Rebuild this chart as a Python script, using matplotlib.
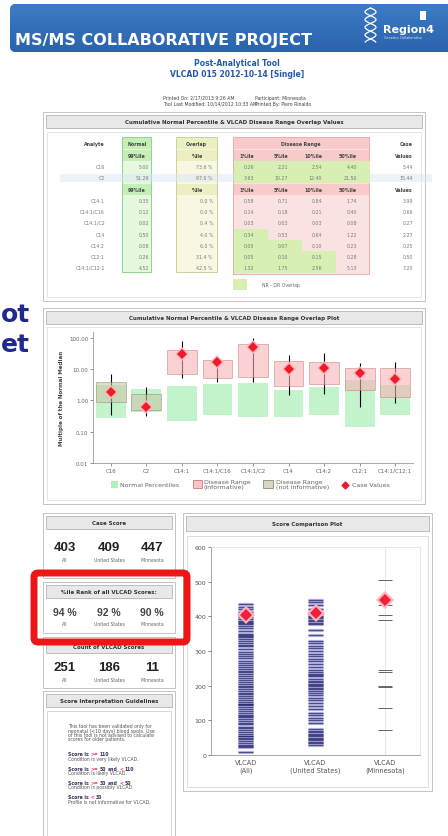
import numpy as np
import matplotlib
matplotlib.use('Agg')
import matplotlib.pyplot as plt
from matplotlib.patches import Rectangle, FancyBboxPatch

W, H = 448, 837

#%% table values
analytes = ['C16', 'C2', 'C14:1', 'C14:1/C16', 'C14:1/C2', 'C14', 'C14:2', 'C12:1', 'C14:1/C12:1']
normal_99 = [5.00, 51.29, 0.35, 0.12, 0.02, 0.50, 0.08, 0.26, 4.52]
overlap_pct = [73.6, 97.0, 0.0, 0.0, 0.4, 4.0, 6.0, 31.4, 42.5]
dr_p1 = [0.26, 3.63, 0.58, 0.14, 0.03, 0.34, 0.05, 0.05, 1.32]
dr_p5 = [2.21, 10.27, 0.71, 0.18, 0.03, 0.53, 0.07, 0.10, 1.75]
dr_p10 = [2.54, 12.40, 0.84, 0.21, 0.03, 0.64, 0.10, 0.15, 2.56]
dr_p50 = [4.40, 21.50, 1.74, 0.40, 0.08, 1.22, 0.23, 0.28, 5.13]
case_values = [5.44, 15.44, 3.99, 0.66, 0.27, 2.27, 0.25, 0.50, 7.20]

#%% overlap plot values (multiple of normal median)
norm_lo = [0.27, 0.42, 0.22, 0.35, 0.30, 0.30, 0.35, 0.14, 0.35]
norm_hi = [3.1, 2.3, 2.8, 3.3, 3.6, 2.2, 2.7, 4.5, 3.0]
box_lo = [0.88, 0.48, 6.9, 5.3, 5.5, 2.9, 3.3, 2.2, 1.3]
box_hi = [3.8, 1.6, 41, 19, 60, 18, 17, 10.5, 10.5]
whisk_lo = [0.33, 0.32, 5.2, 3.8, 3.8, 1.5, 1.6, 0.6, 0.8]
whisk_hi = [6.9, 2.6, 76, 25, 100, 28, 32, 15, 16]
case_mom = [1.9, 0.6, 30, 17, 49, 10, 11, 7.5, 4.8]
informative = [False, False, True, True, True, True, True, True, True]

#%% score values
score_groups = ['VLCAD\n(All)', 'VLCAD\n(United States)', 'VLCAD\n(Minnesota)']
scores_all = [437, 428, 420, 412, 405, 398, 392, 386, 384, 382, 378, 372, 365, 358, 350,
              345, 343, 340, 336, 330, 322, 318, 314, 305, 298, 292, 286, 280, 272, 266,
              260, 255, 248, 242, 238, 233, 228, 222, 215, 210, 205, 200, 195, 190, 186,
              180, 175, 170, 165, 160, 153, 148, 146, 145, 138, 132, 126, 120, 115, 113,
              110, 104, 98, 92, 88, 82, 78, 72, 66, 60, 56, 55, 50, 45, 40, 35, 30, 26, 22, 8]
scores_us = [447, 440, 432, 420, 412, 408, 402, 398, 395, 390, 386, 382, 378, 362, 345,
             330, 322, 315, 308, 300, 292, 285, 278, 270, 262, 254, 246, 238, 235, 232,
             228, 220, 214, 210, 206, 202, 198, 194, 190, 186, 180, 172, 165, 158, 150,
             140, 132, 122, 115, 108, 100, 92, 75, 70, 66, 62, 58, 54, 50, 46, 42, 38, 34, 30]
scores_mn = [505, 433, 404, 389, 245, 240, 200, 196, 136, 72]
case_scores = [403, 409, 447]

pctile_rank = ['94 %', '92 %', '90 %']
score_counts = ['251', '186', '11']
regions = ['All', 'United States', 'Minnesota']

fig = plt.figure(figsize=(W / 100, H / 100), dpi=100)
bg = fig.add_axes([0, 0, 1, 1])
bg.set_xlim(0, W)
bg.set_ylim(H, 0)
bg.axis('off')


def fa(x0, y0, x1, y1):
    return [x0 / W, 1 - y1 / H, (x1 - x0) / W, (y1 - y0) / H]


def rect(x0, y0, x1, y1, fc='white', ec='none', lw=0.6, z=1, **kw):
    r = Rectangle((x0, y0), x1 - x0, y1 - y0, fc=fc, ec=ec, lw=lw, zorder=z, **kw)
    bg.add_patch(r)
    return r


def panel(x0, y0, x1, y1, title, tb=13):
    rect(x0, y0, x1, y1, ec='#c4c4c4', lw=0.7)
    rect(x0 + 3, y0 + 3, x1 - 3, y0 + 3 + tb, fc='#e8e8e8', ec='#b4b4b4', lw=0.6, z=2)
    bg.text((x0 + x1) / 2, y0 + 3 + tb / 2, title, ha='center', va='center',
            fontsize=4, fontweight='bold', color='#333333', zorder=3)


#%% banner
g = np.linspace(0, 1, 50).reshape(-1, 1)
banner = FancyBboxPatch((10, 5), 460, 48, boxstyle='round,pad=0,rounding_size=6',
                        fc='#2f6db5', ec='none', zorder=1)
bg.add_patch(banner)
im = bg.imshow(g, extent=(10, 470, 53, 5), cmap=matplotlib.colors.LinearSegmentedColormap.from_list(
    'bn', ['#3d7cc4', '#2a63ad']), aspect='auto', zorder=1)
im.set_clip_path(banner)
bg.set_xlim(0, W)
bg.set_ylim(H, 0)
bg.text(15, 45, 'MS/MS COLLABORATIVE PROJECT', color='white', fontsize=11.5,
        fontweight='bold', va='baseline', zorder=3)
# logo
t = np.linspace(0, 1, 60)
for ph in [0, np.pi]:
    bg.plot(370.5 + 5.5 * np.sin(2 * np.pi * 2.2 * t + ph), 9 + 34 * t, color='white', lw=0.9, zorder=3)
bg.text(383, 33, 'Region4', color='white', fontsize=8, fontweight='bold', va='baseline', zorder=3)
bg.text(384, 39, 'Genetics Collaborative', color='#d8e4f4', fontsize=2.4, va='baseline', zorder=3)
bg.add_patch(Rectangle((420, 12), 6, 9, fc='white', ec='none', zorder=3))

bg.text(237, 63, 'Post-Analytical Tool', ha='center', va='center', fontsize=5.5,
        fontweight='bold', color='#2359a8')
bg.text(237, 74, 'VLCAD 015 2012-10-14 [Single]', ha='center', va='center', fontsize=5.5,
        fontweight='bold', color='#2359a8')
bg.text(163, 98, 'Printed On: 2/17/2013 9:26 AM', fontsize=3.3, va='center', color='#444444')
bg.text(163, 104, 'Tool Last Modified: 10/14/2012 10:33 AM', fontsize=3.3, va='center', color='#444444')
bg.text(255, 98, 'Participant: Minnesota', fontsize=3.3, va='center', color='#444444')
bg.text(255, 104, 'Printed By: Piero Rinaldo', fontsize=3.3, va='center', color='#444444')

# slide text behind
bg.text(1, 322, 'ot', fontsize=18, fontweight='bold', color='#1f2a8c', ha='left', va='baseline')
bg.text(1, 352, 'et', fontsize=18, fontweight='bold', color='#1f2a8c', ha='left', va='baseline')

#%% table panel
panel(43, 113, 425, 302, 'Cumulative Normal Percentile & VLCAD Disease Range Overlap Values')
rect(47, 133, 421, 298, ec='#dcdcdc', lw=0.5, z=1.5)

row_y = [144, 156, 167, 178, 190, 201, 212, 223, 235, 246, 257, 268]
hdr_rows = [0, 1, 4]
data_rows = [2, 3, 5, 6, 7, 8, 9, 10, 11]
dr_right = [254, 288, 322, 357]

rect(122, 138, 151, 273, fc='#e6f8de', ec='#84c884', z=2)
rect(176, 138, 217, 273, fc='#f8f8e2', ec='#c8c88c', z=2)
rect(233, 138, 369, 275, fc='#fbe2e2', ec='#e8a4a4', z=2)
for r in hdr_rows:
    y = row_y[r]
    rect(122.5, y - 5.5, 150.5, y + 5.5, fc='#c6efb6', z=2.1)
    rect(176.5, y - 5.5, 216.5, y + 5.5, fc='#ecefc2', z=2.1)
    rect(233.5, y - 5.5, 368.5, y + 5.5, fc='#f8caca', z=2.1)
rect(60, 175, 432, 183, fc='#d6e4f6', alpha=0.45, z=2.2)

dr_cols = [dr_p1, dr_p5, dr_p10, dr_p50]
for k, r in enumerate(data_rows):
    y = row_y[r]
    for j, col in enumerate(dr_cols):
        if col[k] <= normal_99[k]:
            rect(233.5 + 34 * j, y - 5.5, 233.5 + 34 * (j + 1), y + 5.5, fc='#d7efb2', z=2.3)
    kw = dict(fontsize=3.4, color='#7a7a7a', va='center', ha='right', zorder=4)
    bg.text(105, y, analytes[k], **kw)
    bg.text(149, y, '%.2f' % normal_99[k], **kw)
    bg.text(213, y, '%.1f %%' % overlap_pct[k], **kw)
    for j, col in enumerate(dr_cols):
        bg.text(dr_right[j], y, '%.2f' % col[k], **kw)
    bg.text(413, y, '%.2f' % case_values[k], **kw)

hk = dict(fontsize=3.4, color='#444444', va='center', fontweight='bold', zorder=4)
bg.text(105, row_y[0], 'Analyte', ha='right', **hk)
bg.text(137, row_y[0], 'Normal', ha='center', **hk)
bg.text(196, row_y[0], 'Overlap', ha='center', **hk)
bg.text(301, row_y[0], 'Disease Range', ha='center', **hk)
bg.text(413, row_y[0], 'Case', ha='right', **hk)
for r in [1, 4]:
    bg.text(137, row_y[r], '99%ile', ha='center', **hk)
    bg.text(197, row_y[r], '%ile', ha='center', **hk)
    for j, lab in enumerate(['1%ile', '5%ile', '10%ile', '50%ile']):
        bg.text(dr_right[j], row_y[r], lab, ha='right', **hk)
    bg.text(413, row_y[r], 'Values', ha='right', **hk)
rect(233, 280, 247, 291, fc='#d7efb2', z=2)
bg.text(262, 285, 'NR - DR Overlap', fontsize=3.3, color='#666666', va='center')

#%% overlap plot panel
panel(43, 309, 425, 505, 'Cumulative Normal Percentile & VLCAD Disease Range Overlap Plot')
rect(47, 328, 421, 501, ec='#dcdcdc', lw=0.5, z=1.5)

ax = fig.add_axes(fa(93, 333, 413, 464))
ax.set_yscale('log')
x = np.arange(len(analytes))
for i in x:
    ax.bar(i, norm_hi[i] - norm_lo[i], bottom=norm_lo[i], width=0.84, color='#aef0ba',
           alpha=0.75, ec='none', zorder=1)
    ax.vlines(i, whisk_lo[i], whisk_hi[i], color='black', lw=0.8, zorder=2)
    if informative[i]:
        fc, ec = '#f7b4b8', '#c87a7a'
    else:
        fc, ec = '#c9c6a8', '#8a8a7a'
    ax.bar(i, box_hi[i] - box_lo[i], bottom=box_lo[i], width=0.84, color=fc, alpha=0.6,
           ec=ec, lw=0.6, zorder=3)
ax.plot(x, case_mom, 'D', color='#ffb3ba', ms=7.5, mew=0, zorder=4)
ax.plot(x, case_mom, 'D', color='#ee1c2a', ms=5, mew=0, zorder=5)
ax.set_xlim(-0.5, len(analytes) - 0.5)
ax.set_ylim(0.01, 150)
ax.set_yticks([0.01, 0.1, 1, 10, 100])
ax.set_yticklabels(['0.01', '0.10', '1.00', '10.00', '100.00'])
ax.minorticks_off()
ax.set_xticks(x)
ax.set_xticklabels(analytes)
ax.tick_params(labelsize=4, colors='#666666', length=2, width=0.5, pad=1.5)
for s in ['top', 'right']:
    ax.spines[s].set_visible(False)
for s in ['left', 'bottom']:
    ax.spines[s].set_color('#999999')
    ax.spines[s].set_linewidth(0.6)
ax.patch.set_alpha(0)
bg.text(62, 398, 'Multiple of the Normal Median', rotation=90, fontsize=4, fontweight='bold',
        color='#444444', ha='center', va='center')

# legend
lk = dict(fontsize=4.5, color='#666666', va='center', linespacing=0.95)
rect(111, 482, 118, 489, fc='#aef0ba', z=2)
bg.text(120, 485.5, 'Normal Percentiles', **lk)
rect(193, 481, 202, 489, fc='#f7c4c8', ec='#c87a7a', z=2)
bg.text(204, 485, 'Disease Range\n(informative)', **lk)
rect(263, 481, 273, 489, fc='#d8d6c0', ec='#8a8a7a', z=2)
bg.text(276, 485, 'Disease Range\n(not informative)', **lk)
bg.plot(345, 485.5, 'D', color='#ee1c2a', ms=3.5, zorder=3)
bg.text(352, 485.5, 'Case Values', **lk)

#%% left column
cx = [65, 109, 152]
panel(43, 514, 175, 579, 'Case Score')
for i in range(3):
    bg.text(cx[i], 548, str(case_scores[i]), ha='center', va='center', fontsize=9.5,
            fontweight='bold', family='Liberation Sans', color='#222222')
    bg.text(cx[i], 561, regions[i], ha='center', va='center', fontsize=3.3, color='#666666')
bg.text(109, 572, 'View Calculations', ha='center', va='center', fontsize=3.5, color='#3355cc')

panel(43, 583, 175, 634, '%ile Rank of all VLCAD Scores:')
for i in range(3):
    bg.text(cx[i], 613, pctile_rank[i], ha='center', va='center', fontsize=7.5,
            fontweight='bold', family='Liberation Sans', color='#444444')
    bg.text(cx[i], 625, regions[i], ha='center', va='center', fontsize=3.3, color='#666666')

panel(43, 638, 175, 689, 'Count of VLCAD Scores')
for i in range(3):
    bg.text(cx[i], 668, score_counts[i], ha='center', va='center', fontsize=9.5,
            fontweight='bold', family='Liberation Sans', color='#222222')
    bg.text(cx[i], 681, regions[i], ha='center', va='center', fontsize=3.3, color='#666666')

panel(43, 692, 175, 845, 'Score Interpretation Guidelines')
rect(47, 712, 171, 845, ec='#c8c8c8', lw=0.5, z=1.5)

fs = 3.3
intro = ['This tool has been validated only for', 'neonatal (<10 days) blood spots. Use',
         'of this tool is not advised to calculate', 'scores for older patients.']
for k, line in enumerate(intro):
    bg.text(68, 726.7 + 4.4 * k, line, fontsize=fs, color='#555555', va='center')

rend = fig.canvas.get_renderer()


def twidth(s, weight):
    tt = bg.text(0, 0, s, fontsize=fs, fontweight=weight)
    w = tt.get_window_extent(renderer=rend).width
    tt.remove()
    return w


sp = twidth('a a', 'bold') - twidth('aa', 'bold')


def rich(x0, y, parts):
    xx = x0
    for s, c in parts:
        bg.text(xx, y, s, fontsize=fs, fontweight='bold', color=c, va='center')
        xx += twidth(s, 'bold') + sp


dk, rd = '#333355', '#ee3355'
rules = [
    ([('Score is', dk), ('>=', rd), ('110', dk)], 'Condition is very likely VLCAD.'),
    ([('Score is', dk), ('>=', rd), ('50', dk), ('and', dk), ('<', rd), ('110', dk)], 'Condition is likely VLCAD.'),
    ([('Score is', dk), ('>=', rd), ('30', dk), ('and', dk), ('<', rd), ('50', dk)], 'Condition is possibly VLCAD.'),
    ([('Score is', dk), ('<', rd), ('30', dk)], 'Profile is not informative for VLCAD.'),
]
for k, (parts, desc) in enumerate(rules):
    y = 755 + 14.3 * k
    rich(68, y, parts)
    bg.text(68, y + 4.4, desc, fontsize=fs, color='#555555', va='center')

#%% score comparison plot
panel(183, 514, 432, 792, 'Score Comparison Plot', tb=15)
rect(187, 537, 428, 788, ec='#d0d0d0', lw=0.5, z=1.5)

ax2 = fig.add_axes(fa(211, 548, 420, 756))
ax2.vlines(2, 0, 600, color='#e2e2e2', lw=0.6, zorder=1)
for i, vals in enumerate([scores_all, scores_us]):
    ax2.hlines(vals, i - 0.11, i + 0.11, colors='#c4c4ea', lw=2.4, zorder=2)
    ax2.hlines(vals, i - 0.11, i + 0.11, colors='#23236e', lw=1.0, alpha=0.75, zorder=3)
ax2.hlines(scores_mn, 2 - 0.1, 2 + 0.1, colors='#666666', lw=0.7, zorder=3)
ax2.plot(range(3), case_scores, 'D', color='#ffb3ba', ms=9, mew=0, zorder=4)
ax2.plot(range(3), case_scores, 'D', color='#f0203a', ms=6.5, mew=0, zorder=5)
ax2.set_xlim(-0.5, 2.5)
ax2.set_ylim(0, 600)
ax2.set_yticks(range(0, 601, 100))
ax2.set_xticks(range(3))
ax2.set_xticklabels(score_groups)
ax2.tick_params(axis='y', labelsize=4.5, colors='#555555', length=2, width=0.5, pad=1.5)
ax2.tick_params(axis='x', labelsize=4.8, colors='#555555', length=0, pad=3)
for s in ['top', 'right']:
    ax2.spines[s].set_color('#dddddd')
    ax2.spines[s].set_linewidth(0.5)
for s in ['left', 'bottom']:
    ax2.spines[s].set_color('#999999')
    ax2.spines[s].set_linewidth(0.6)

#%% red highlight box
bg.add_patch(FancyBboxPatch((34, 574), 153, 69, boxstyle='round,pad=0,rounding_size=4',
                            fc='none', ec='#ee1515', lw=5, zorder=10))

fig.savefig('out.png', dpi=100)
